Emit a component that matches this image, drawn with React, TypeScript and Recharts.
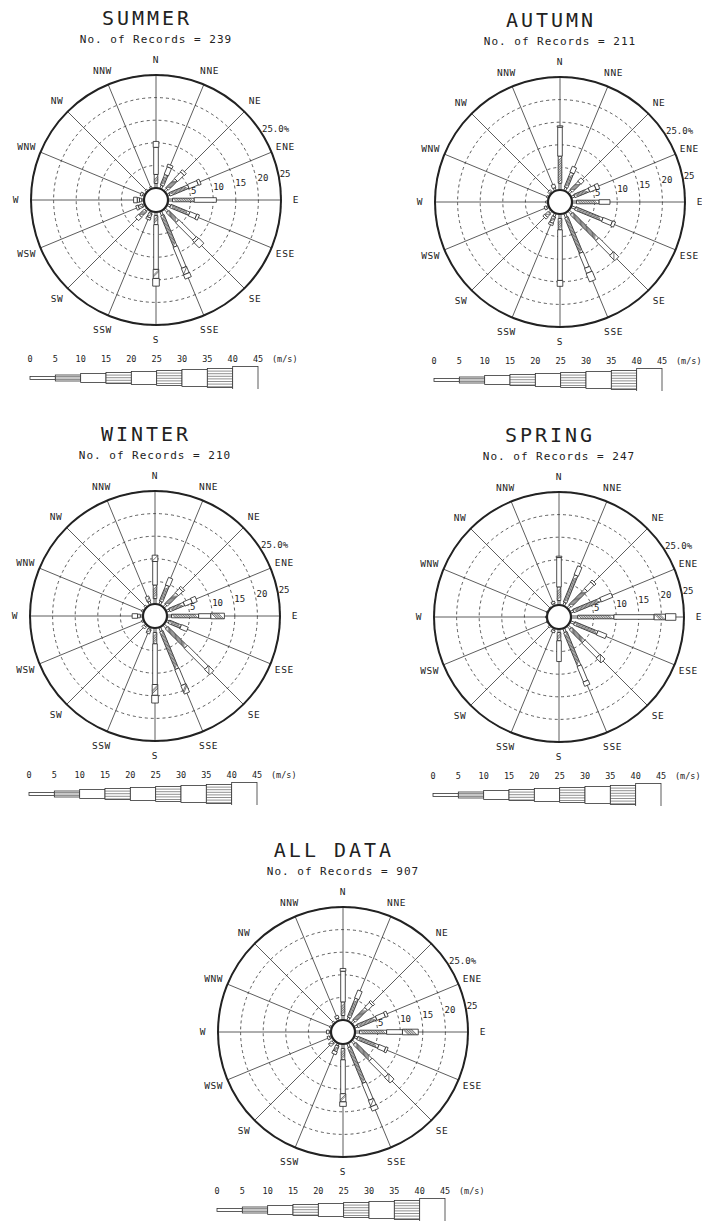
import React from 'react';
import {
  RadarChart,
  PolarGrid,
  PolarAngleAxis,
  PolarRadiusAxis,
  Radar,
  BarChart,
  Bar,
  XAxis,
  YAxis,
} from 'recharts';

// 16 compass sectors, clockwise from north
const directions = ['N', 'NNE', 'NE', 'ENE', 'E', 'ESE', 'SE', 'SSE', 'S', 'SSW', 'SW', 'WSW', 'W', 'WNW', 'NW', 'NNW'];

// wind speed class edges (m/s)
const speedTicks = [0, 5, 10, 15, 20, 25, 30, 35, 40, 45];

// frequency (%) per speed class, one row per direction (same order as directions)
const summerBins = [
  [1.0, 2.0, 6.0, 1.3],
  [0.8, 2.5, 1.8, 0.6],
  [0.8, 2.8, 2.0, 0.6],
  [0.6, 4.5, 2.2, 0.6],
  [1.0, 4.8, 4.9],
  [0.8, 4.5, 1.6, 0.6],
  [1.0, 3.0, 5.4, 0.6, 1.6],
  [1.0, 7.5, 5.0, 1.5, 1.0],
  [0.8, 2.0, 9.9, 2.0, 1.7],
  [0.5, 1.0, 0.5],
  [0.6, 1.7, 1.0],
  [0.5, 1.0, 0.5],
  [0.5, 0.5, 0.5, 0.8],
  [0.5, 0.5],
  [0.5],
  [0.5],
];

const autumnBins = [
  [1.5, 6.0, 6.4, 0.3],
  [0.8, 3.5, 1.4],
  [0.8, 2.6, 1.0],
  [0.8, 3.5, 1.5, 0.8],
  [1.0, 5.0, 2.4],
  [1.0, 6.5, 2.2, 0.7],
  [1.0, 8.0, 4.5, 1.6],
  [1.0, 8.5, 3.5, 1.2, 2.0],
  [1.0, 2.5, 11.2, 1.3],
  [0.8, 1.5, 0.5],
  [0.7, 1.0, 0.5],
  [0.5, 0.5],
  [0.5],
  [0.5],
  [0.4, 0.4],
  [0.7, 0.8],
];

const winterBins = [
  [1.2, 3.0, 5.2, 1.4],
  [0.8, 3.8, 1.8],
  [0.8, 3.4, 1.3, 0.5],
  [0.8, 3.5, 1.8, 1.1],
  [1.0, 6.0, 2.7, 3.0],
  [0.7, 2.8, 1.6],
  [1.0, 6.0, 6.5, 1.6],
  [1.0, 9.0, 3.8, 2.0],
  [1.0, 2.5, 9.0, 2.4, 1.7],
  [0.5, 1.0],
  [0.5, 0.5],
  [0.5],
  [0.6, 0.6, 1.2],
  [0.5],
  [0.5],
  [0.8, 1.2],
];

const springBins = [
  [1.0, 3.0, 6.5, 0.3],
  [0.8, 6.5, 2.1],
  [0.8, 5.0, 2.0, 0.5],
  [0.8, 6.5, 2.7],
  [1.5, 8.0, 8.9, 2.5, 2.3],
  [1.0, 5.5, 2.1],
  [1.0, 4.0, 4.6, 1.5],
  [1.0, 8.0, 3.7, 1.0],
  [0.8, 1.8, 4.6],
  [0.5, 0.5],
  [0.5],
  [0.3],
  [0.3],
  [0.3],
  [0.3],
  [0.5, 0.5],
];

const allBins = [
  [1.0, 3.0, 6.8, 0.6],
  [0.8, 4.5, 1.9],
  [0.8, 3.8, 1.5, 0.5],
  [0.8, 4.5, 2.0, 0.6],
  [1.0, 6.0, 3.5, 3.5],
  [0.8, 5.0, 1.6, 0.5],
  [1.0, 5.0, 5.0, 1.7],
  [1.0, 8.5, 4.0, 1.5, 1.0],
  [1.0, 2.5, 7.5, 1.8, 1.0],
  [0.6, 1.3, 0.7],
  [0.5, 1.0],
  [0.5, 0.5],
  [0.4, 0.6],
  [0.5],
  [0.5],
  [0.6, 0.6],
];

const panelTitles = ['SUMMER', 'AUTUMN', 'WINTER', 'SPRING', 'ALL DATA'];
const panelRecords = [239, 211, 210, 247, 907];
const panelBins = [summerBins, autumnBins, winterBins, springBins, allBins];

// page layout (centre of each rose)
const panelCenters = [
  [156, 200],
  [560, 202],
  [155, 616],
  [559, 617],
  [343, 1032],
];

const FONT = '"DejaVu Sans Mono", monospace';
const INK = '#222';
const INNER = 12;
const OUTER = 125;
const CW = 340;
const CH = 310;
const RING_ANGLE = 11;
const PCT_ANGLE = 32;
const ROSE_W = [2, 3.6, 4.6, 5.6, 6.6, 7.6, 8.6, 9.6, 11];
const KEY_W = [3, 6, 9, 11, 13, 15, 17, 19, 23];
const KEY_PAD = 10;
const NBINS = speedTicks.length - 1;

function buildRows(bins: number[][]) {
  return directions.map((dir, i) => {
    const row: Record<string, any> = { dir };
    let acc = 0;
    for (let k = 0; k < NBINS; k++) {
      const v = bins[i][k] ?? 0;
      acc += v;
      row[`b${k}`] = v;
      row[`c${k}`] = acc;
    }
    return row;
  });
}

const roseShape = (k: number) => (props: any) => {
  const pts = props.points || [];
  return (
    <g>
      {pts.map((p: any, i: number) => {
        const row = p.payload;
        const seg = row[`b${k}`];
        const cur = row[`c${k}`];
        if (!seg || !cur || p.radius == null) return null;
        const r1 = p.radius;
        const r0 = INNER + ((r1 - INNER) * (cur - seg)) / cur;
        const a = (-p.angle * Math.PI) / 180;
        const ux = Math.cos(a);
        const uy = Math.sin(a);
        const nx = -uy;
        const ny = ux;
        const h = ROSE_W[k] / 2;
        const P = (r: number, o: number) => [p.cx + ux * r + nx * o, p.cy + uy * r + ny * o];
        const poly = [P(r0, -h), P(r1, -h), P(r1, h), P(r0, h)].map((q) => q.join(',')).join(' ');
        const hatch: React.ReactNode[] = [];
        if (k % 2 === 1) {
          for (let t = r0 + 0.4; t + 2 * h <= r1; t += 1.7) {
            const s = P(t, -h);
            const e = P(t + 2 * h, h);
            hatch.push(<line key={t} x1={s[0]} y1={s[1]} x2={e[0]} y2={e[1]} stroke="#333" strokeWidth={0.7} />);
          }
        }
        return (
          <g key={i}>
            <polygon points={poly} fill="#fff" stroke="#222" strokeWidth={0.8} />
            {hatch}
          </g>
        );
      })}
    </g>
  );
};

const hubShape = (props: any) => {
  const p = props.points && props.points[0];
  if (!p) return <g />;
  return <circle cx={p.cx} cy={p.cy} r={p.radius} fill="#fff" stroke={INK} strokeWidth={2.2} />;
};

const DirTick = ({ x, y, payload }: any) => (
  <text x={x} y={y} dy="0.35em" textAnchor="middle" fontFamily={FONT} fontSize={9.5} letterSpacing={0.6} fill={INK}>
    {payload.value}
  </text>
);

// ring labels along a ray just above E; the outer ring also carries the 25.0% label further round
const RingTick = ({ x, y, payload }: any) => {
  if (!payload.value) return <g />;
  const label = (
    <text x={x + 1} y={y} dy="0.1em" textAnchor="start" fontFamily={FONT} fontSize={9} fill={INK}>
      {payload.value}
    </text>
  );
  if (payload.value !== 25) return label;
  const r = payload.coordinate;
  const ra = (RING_ANGLE * Math.PI) / 180;
  const pa = (PCT_ANGLE * Math.PI) / 180;
  const ox = x - r * Math.cos(ra);
  const oy = y + r * Math.sin(ra);
  return (
    <g>
      {label}
      <text
        x={ox + r * Math.cos(pa)}
        y={oy - r * Math.sin(pa)}
        dy="-0.2em"
        textAnchor="start"
        fontFamily={FONT}
        fontSize={9}
        fill={INK}
      >
        {`${payload.value.toFixed(1)}%`}
      </text>
    </g>
  );
};

function Rose({ bins }: { bins: number[][] }) {
  const rows = buildRows(bins);
  const used = Math.max(...bins.map((b) => b.length));
  return (
    <RadarChart
      width={CW}
      height={CH}
      data={rows}
      cx={CW / 2}
      cy={CH / 2}
      innerRadius={INNER}
      outerRadius={OUTER}
      startAngle={90}
      endAngle={-270}
      margin={{ top: 0, right: 0, bottom: 0, left: 0 }}
    >
      <PolarGrid gridType="circle" radialLines={false} stroke="#333" strokeWidth={0.8} strokeDasharray="3 3" />
      <PolarGrid gridType="circle" polarRadius={[]} radialLines stroke="#333" strokeWidth={0.8} />
      <PolarAngleAxis
        dataKey="dir"
        axisLineType="circle"
        axisLine={{ stroke: INK, strokeWidth: 2 }}
        tickLine={false}
        tickSize={15}
        tick={DirTick}
      />
      <PolarRadiusAxis
        angle={RING_ANGLE}
        domain={[0, 25]}
        type="number"
        tickCount={6}
        axisLine={false}
        tickLine={false}
        tick={RingTick}
      />
      {Array.from({ length: used }, (_, k) => (
        <Radar key={k} dataKey={`c${k}`} isAnimationActive={false} shape={roseShape(k)} />
      ))}
      <Radar dataKey={() => 0} isAnimationActive={false} shape={hubShape} />
    </RadarChart>
  );
}

const keyRow = [
  speedTicks.slice(1).reduce((row: Record<string, any>, t, k) => ({ ...row, [`s${k}`]: t - speedTicks[k] }), { name: 'key' }),
];

const keyShape = (k: number) => (props: any) => {
  const { x, y, width, height } = props;
  const mid = y + height / 2;
  const h = KEY_W[k] / 2;
  const lines: React.ReactNode[] = [];
  if (k % 2 === 1) {
    const step = k === 1 ? 1.5 : 2.6;
    for (let o = -h + step; o < h - 0.5; o += step) {
      lines.push(<line key={o} x1={x} x2={x + width} y1={mid + o} y2={mid + o} stroke="#444" strokeWidth={0.6} />);
    }
  }
  return (
    <g>
      <rect x={x} y={mid - h} width={width} height={2 * h} fill="#fff" stroke="#333" strokeWidth={0.8} />
      {lines}
    </g>
  );
};

const KeyTick = ({ x, y, payload, index }: any) => (
  <g>
    <text x={x} y={y} dy="0.35em" textAnchor="middle" fontFamily={FONT} fontSize={8.5} fill={INK}>
      {payload.value}
    </text>
    {index === speedTicks.length - 1 && (
      <text x={x + 14} y={y} dy="0.35em" textAnchor="start" fontFamily={FONT} fontSize={8.5} fill={INK}>
        (m/s)
      </text>
    )}
  </g>
);

function SpeedKey() {
  return (
    <BarChart
      width={292 + KEY_PAD}
      height={42}
      layout="vertical"
      data={keyRow}
      margin={{ top: 0, right: 64, bottom: 0, left: KEY_PAD }}
      barCategoryGap={0}
    >
      <XAxis
        type="number"
        orientation="top"
        domain={[0, 45]}
        ticks={speedTicks}
        interval={0}
        axisLine={false}
        tickLine={false}
        height={20}
        tick={KeyTick}
      />
      <YAxis type="category" dataKey="name" hide />
      {Array.from({ length: NBINS }, (_, k) => (
        <Bar key={k} dataKey={`s${k}`} stackId="v" isAnimationActive={false} shape={keyShape(k)} />
      ))}
    </BarChart>
  );
}

export default function App() {
  return (
    <div style={{ position: 'absolute', left: 0, top: 0, width: 702, height: 1221, background: '#fff', overflow: 'hidden' }}>
      {panelTitles.map((title, i) => {
        const [cx, cy] = panelCenters[i];
        return (
          <React.Fragment key={title}>
            <div
              style={{
                position: 'absolute',
                left: cx - 9 - 100,
                top: cy - 194,
                width: 200,
                textAlign: 'center',
                fontFamily: FONT,
                fontSize: 20,
                letterSpacing: 3,
                color: INK,
                lineHeight: '24px',
              }}
            >
              {title}
            </div>
            <div
              style={{
                position: 'absolute',
                left: cx - 100,
                top: cy - 167,
                width: 200,
                textAlign: 'center',
                fontFamily: FONT,
                fontSize: 11,
                letterSpacing: 1,
                color: INK,
                lineHeight: '14px',
                whiteSpace: 'pre',
              }}
            >
              {`No. of Records = ${panelRecords[i]}`}
            </div>
            <div style={{ position: 'absolute', left: cx - CW / 2, top: cy - CH / 2 }}>
              <Rose bins={panelBins[i]} />
            </div>
            <div style={{ position: 'absolute', left: cx - 126 - KEY_PAD, top: cy + 147 }}>
              <SpeedKey />
            </div>
          </React.Fragment>
        );
      })}
    </div>
  );
}
